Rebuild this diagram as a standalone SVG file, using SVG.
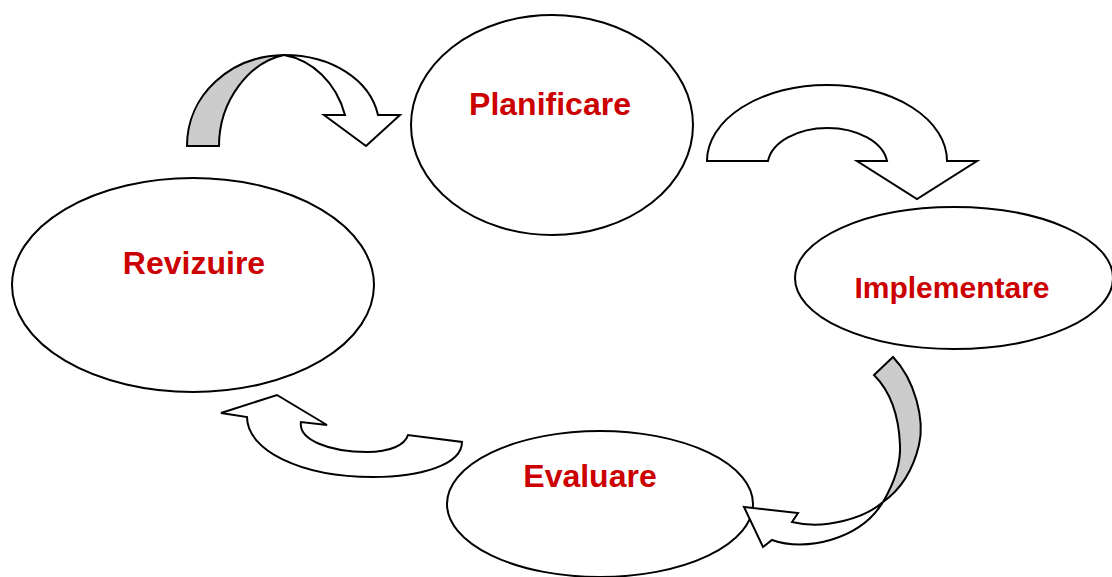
<svg xmlns="http://www.w3.org/2000/svg" width="1112" height="577" viewBox="0 0 1112 577">
<style>
.node{fill:#fff;stroke:#000;stroke-width:2}
.lbl{font-family:"Liberation Sans",Arial,sans-serif;font-weight:bold;fill:#CC0000;text-anchor:middle}
.arr{fill:#fff;stroke:#000;stroke-width:2;stroke-linejoin:miter}
.back{fill:#cccccc;stroke:#000;stroke-width:2}
</style>
<rect width="1112" height="577" fill="#fff"/>
<g id="node-planificare">
<ellipse class="node" cx="552" cy="125" rx="141" ry="110"/>
<text class="lbl" x="550" y="115" font-size="32">Planificare</text>
</g>
<g id="node-implementare">
<ellipse class="node" cx="954" cy="278" rx="159" ry="71"/>
<text class="lbl" x="952" y="298" font-size="30">Implementare</text>
</g>
<g id="node-evaluare">
<ellipse class="node" cx="600" cy="504" rx="153" ry="73"/>
<text class="lbl" x="590" y="487" font-size="32">Evaluare</text>
</g>
<g id="node-revizuire">
<ellipse class="node" cx="193" cy="285" rx="181" ry="107"/>
<text class="lbl" x="194" y="274" font-size="32">Revizuire</text>
</g>
<g id="connectors">
<g id="arrow-revizuire-planificare">
<path class="back" d="M187,146 C187,95 230,56 284,55 C250,62 219,100 219,146 Z"/>
<path class="arr" d="M284,55 C332,55 370,80 378,115 L400,115 L366,146 L324,115 L345,115 C336,82 312,60 284,55 Z"/>
</g>
<g id="arrow-planificare-implementare">
<path class="arr" d="M707,161 A120,76 0 0 1 947,161 L977,161 L917,199 L857,161 L887,161 A60,38 0 0 0 768,161 Z"/>
</g>
<g id="arrow-implementare-evaluare">
<path class="back" d="M893,357 C915,380 925,420 919,445 C913,470 900,490 883,502 C893,485 901,465 900,445 C899,420 892,393 874,375 Z"/>
<path class="arr" d="M883,502 C865,518 825,530 792,522 L798,513 L744,507 L763,547 L772,540 C805,552 860,540 883,502 Z"/>
</g>
<g id="arrow-evaluare-revizuire">
<path class="arr" d="M221,413 L277,395 L327,425 L301,422 C298,440 330,452 367,452 C390,452 405,445 408,435 L462,442 C462,465 420,477 373,477 C300,477 247,450 247,417 Z"/>
</g>
</g>
</svg>
